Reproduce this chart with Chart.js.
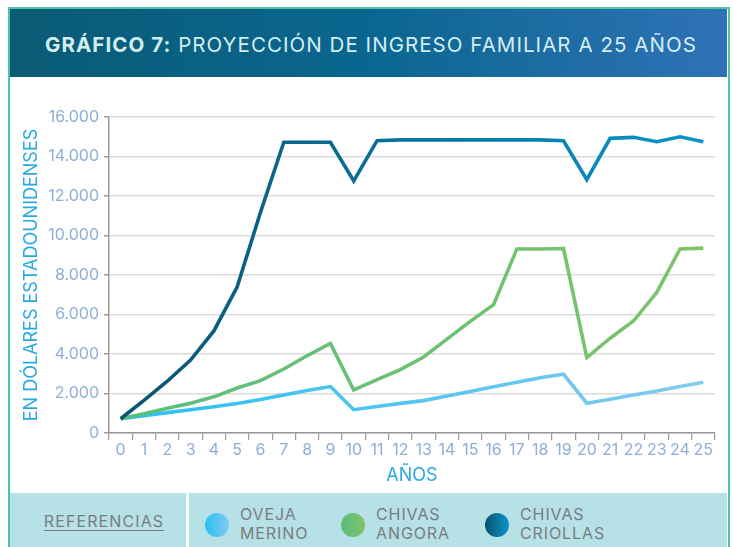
<!DOCTYPE html>
<html lang="es">
<head>
<meta charset="utf-8">
<script src="https://cdn.jsdelivr.net/npm/chart.js@4"></script>
<style>
  html, body { margin: 0; padding: 0; background: #fff; }
  body { width: 733px; height: 547px; position: relative; overflow: hidden; font-family: 'Inter', 'Noto Sans', sans-serif; }
  .frame { position: absolute; left: 8px; top: 7px; width: 718px; height: 545px; border: 2px solid #4fc3aa; border-bottom: none; }
  .header { position: absolute; left: 10px; top: 9px; width: 717px; height: 68px;
    background: linear-gradient(90deg, #0a5b75 0%, #0a6690 50%, #2f72b6 100%); }
  .header h1 { margin: 0; position: absolute; left: 35px; top: 23px; font-size: 20.5px; font-weight: 400;
    color: #d3eef1; white-space: nowrap; letter-spacing: 1.05px; }
  .header h1 b { font-weight: 700; }
  .chartbox { position: absolute; left: 0; top: 90px; width: 733px; height: 400px; }
  .legend { position: absolute; left: 10px; top: 493px; width: 717px; height: 54px; background: #b5e1e7; }
  .sep { position: absolute; left: 176px; top: 0; width: 3px; height: 54px; background: #fff; }
  .refs { position: absolute; left: 0; width: 188px; top: 18px; text-align: center; font-size: 16px;
    color: #7a7d80; text-decoration: underline; text-underline-offset: 3px; letter-spacing: 1.1px; }
  .item { position: absolute; top: 12px; height: 40px; }
  .dot { position: absolute; left: 0; top: 8px; width: 24px; height: 24px; border-radius: 50%; }
  .lbl { position: absolute; left: 35px; top: 0; font-size: 16px; line-height: 19px; color: #7a7d80; white-space: nowrap; letter-spacing: 0.9px; }
</style>
</head>
<body>
<div class="frame"></div>
<div class="header"><h1><b>GRÁFICO 7:</b> PROYECCIÓN DE INGRESO FAMILIAR A 25 AÑOS</h1></div>
<div class="chartbox"><canvas id="chart"></canvas></div>
<div class="legend">
  <div class="sep"></div>
  <div class="refs">REFERENCIAS</div>
  <div id="items"></div>
</div>
<script>
// años 0..25
const years = ['0','1','2','3','4','5','6','7','8','9','10','11','12','13','14','15','16','17','18','19','20','21','22','23','24','25'];

// USD por año
const ovejaMerino = [720, 880, 1030, 1180, 1330, 1490, 1700, 1920, 2150, 2350, 1180, 1340, 1500, 1640, 1870, 2100, 2340, 2570, 2800, 2980, 1510, 1710, 1920, 2130, 2350, 2570];
const chivasAngora = [720, 980, 1250, 1510, 1830, 2280, 2650, 3240, 3910, 4540, 2180, 2700, 3210, 3850, 4750, 5650, 6500, 9320, 9320, 9340, 3820, 4800, 5670, 7120, 9320, 9360];
const chivasCriollas = [720, 1650, 2620, 3690, 5170, 7400, 11180, 14720, 14720, 14720, 12760, 14800, 14840, 14840, 14840, 14840, 14840, 14840, 14840, 14800, 12830, 14920, 14970, 14750, 15000, 14750];

const seriesNames = [['OVEJA', 'MERINO'], ['CHIVAS', 'ANGORA'], ['CHIVAS', 'CRIOLLAS']];
const seriesColors = [['#27c0f3', '#84cbef'], ['#59be7e', '#80c46b'], ['#09536d', '#0b95cd']];

function lineGradient(c0, c1) {
    return function(ctx) {
        const area = ctx.chart.chartArea;
        if (!area) return c0;
        const g = ctx.chart.ctx.createLinearGradient(area.left, 0, area.right, 0);
        g.addColorStop(0, c0);
        g.addColorStop(1, c1);
        return g;
    };
}

// leyenda html
const legendPos = [195, 331, 475];
const itemsEl = document.getElementById('items');
seriesNames.forEach((n, i) => {
    const d = document.createElement('div');
    d.className = 'item';
    d.style.left = legendPos[i] + 'px';
    d.innerHTML = '<div class="dot" style="background:linear-gradient(90deg,' + seriesColors[i][0] + ',' + seriesColors[i][1] + ')"></div>' +
        '<div class="lbl">' + n[0] + '<br>' + n[1] + '</div>';
    itemsEl.appendChild(d);
});

const FONT = "'Inter', 'Noto Sans', sans-serif";
const AXIS = '#9a9a9a';
const TICK_TXT = '#8eaed6';
const TITLE_TXT = '#29a9e0';

const data = [ovejaMerino, chivasAngora, chivasCriollas];

new Chart(document.getElementById('chart'), {
    type: 'line',
    data: {
        labels: years,
        datasets: data.map((d, i) => ({
            label: seriesNames[i].join(' '),
            data: d,
            borderColor: lineGradient(seriesColors[i][0], seriesColors[i][1]),
            borderWidth: 3.6,
            pointRadius: 0,
            tension: 0,
            fill: false,
            order: 3 - i
        }))
    },
    options: {
        responsive: true,
        maintainAspectRatio: false,
        animation: false,
        devicePixelRatio: 1,
        layout: { padding: { top: 27, right: 18, left: 0, bottom: 0 } },
        plugins: { legend: { display: false }, tooltip: { enabled: false } },
        scales: {
            x: {
                offset: true,
                grid: { offset: true, drawOnChartArea: false, drawTicks: true, tickLength: 7, color: AXIS, lineWidth: 1.2 },
                border: { display: true, color: AXIS, width: 1.5 },
                ticks: { color: TICK_TXT, font: { family: FONT, size: 16 }, padding: 1, maxRotation: 0, autoSkip: false },
                title: { display: true, text: 'AÑOS', color: TITLE_TXT, font: { family: FONT, size: 18 }, padding: { top: 0, bottom: 4 } },
                afterFit: s => { s.height = 57; }
            },
            y: {
                min: 0,
                max: 16000,
                grid: { color: '#dcdcdc', lineWidth: 1.5, drawTicks: true, tickLength: 5, tickColor: AXIS },
                border: { display: true, color: AXIS, width: 1.5 },
                ticks: {
                    stepSize: 2000,
                    color: TICK_TXT,
                    padding: 5,
                    font: { family: FONT, size: 16 },
                    callback: v => v === 0 ? '0' : (v / 1000) + '.000'
                },
                title: { display: true, text: 'EN DÓLARES ESTADOUNIDENSES', color: TITLE_TXT, font: { family: FONT, size: 18 }, padding: { top: 21, bottom: 0 } },
                afterFit: s => { s.width = 109; }
            }
        }
    }
});
</script>
</body>
</html>
